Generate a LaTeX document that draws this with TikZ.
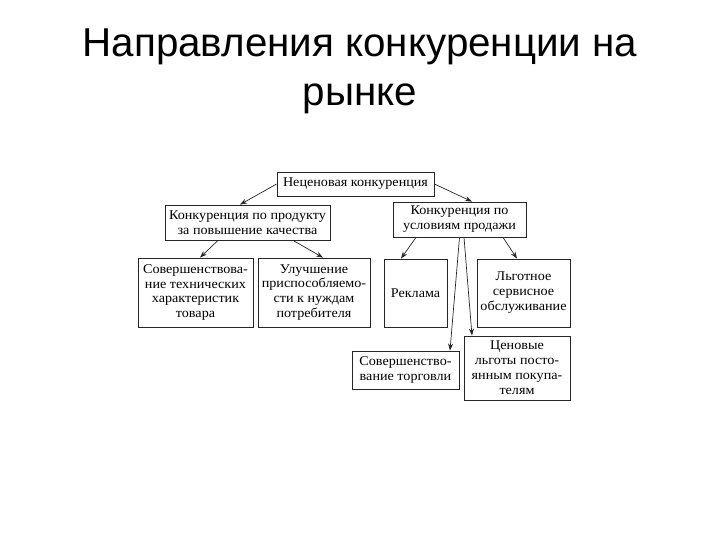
\documentclass[tikz,border=0pt]{standalone}
\usepackage{fontspec}
\setmainfont{Liberation Serif}[FakeStretch=1.06]
\newfontfamily\titlefont{Liberation Sans}
\usepackage{tikz}
\usetikzlibrary{arrows.meta}
\tikzset{%
  every box/.style={
    draw=black!85,
    line width=0.8bp,
    align=center,
    inner sep=1bp,
    font=\fontsize{13.4}{15}\selectfont
  },
  every link/.style={
    ->,
    draw=black!85,
    line width=0.7bp
  },
  title line/.style={
    anchor=base,
    font=\titlefont\fontsize{40.5}{40}\selectfont
  },
}

\begin{document}
\begin{tikzpicture}[x=1bp, y=-1bp, >={Stealth[length=7bp,width=5bp]}]

            \useasboundingbox (0,0) rectangle (720,540);

            % Title
            \node [title line] (title-1) at (360,57) {Направления конкуренции на};
            \node [title line] (title-2) at (360,106) {рынке};

            % Top node
            \node [every box, minimum width=157bp, minimum height=24bp] (top) at (355.5,184)
              {Неценовая конкуренция};

            % Second level
            \node [every box, minimum width=165bp, minimum height=35bp] (prod) at (247.5,222.5)
              {Конкуренция по продукту\\за повышение качества};
            \node [every box, minimum width=133bp, minimum height=35bp] (sales) at (459.5,219.5)
              {Конкуренция по\\условиям продажи};

            % Third level, product side
            \node [every box, minimum width=115bp, minimum height=69bp] (tech) at (195.5,292.5)
              {Совершенствова-\\ние технических\\характеристик\\товара};
            \node [every box, minimum width=112bp, minimum height=69bp] (adapt) at (314,292.5)
              {Улучшение\\приспособляемо-\\сти к нуждам\\потребителя};

            % Third level, sales side
            \node [every box, minimum width=63bp, minimum height=68bp] (adv) at (415.5,293)
              {Реклама};
            \node [every box, minimum width=93bp, minimum height=68bp] (serv) at (523.5,293)
              {Льготное\\сервисное\\обслуживание};
            \node [every box, minimum width=107bp, minimum height=38bp] (trade) at (405.5,370)
              {Совершенство-\\вание торговли};
            \node [every box, minimum width=106bp, minimum height=64bp] (price) at (517,368)
              {Ценовые\\льготы посто-\\янным покупа-\\телям};

            % Lines from top node
            \draw [every link] (top.west) -- ([xshift=-7.5bp]prod.north);
            \draw [every link] (top.east) -- ([xshift=12.5bp]sales.north);

            % Lines from product node
            \draw [every link] ([xshift=-29.5bp]prod.south) -- ([xshift=4.5bp]tech.north);
            \draw [every link] ([xshift=45.5bp]prod.south) -- ([xshift=9bp]adapt.north);

            % Lines from sales node
            \foreach \from/\to/\target in {-43.5/-14.5/adv, 43.5/-6.5/serv, 0/44.5/trade, 4.5/-45/price}
              \draw [every link] ([xshift=\from bp]sales.south) -- ([xshift=\to bp]\target.north);

\end{tikzpicture}
\end{document}
